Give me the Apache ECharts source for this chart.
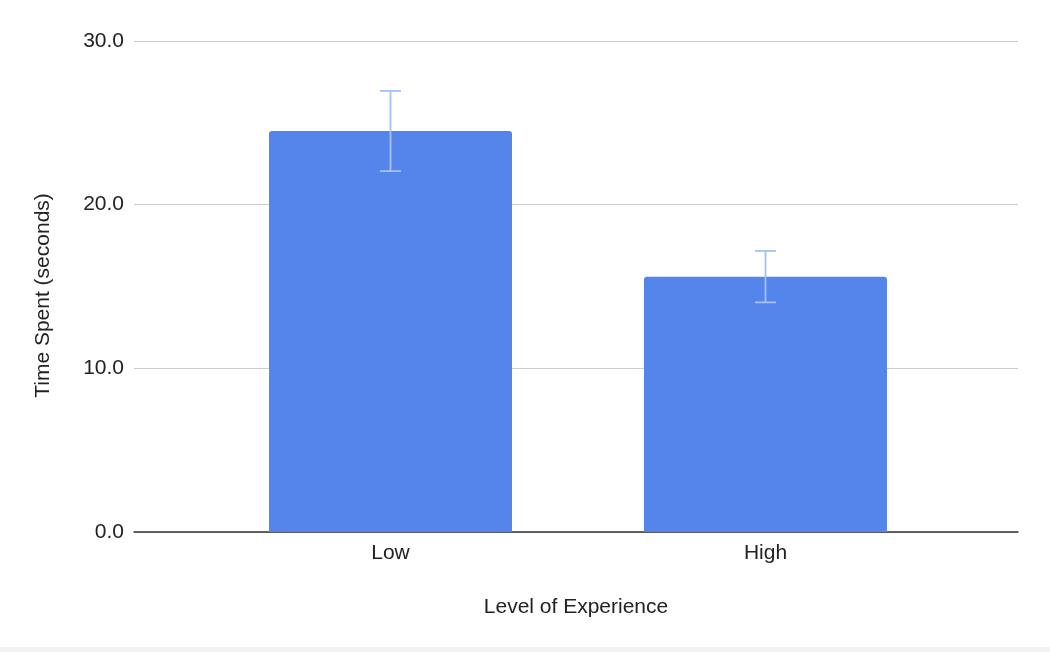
<!DOCTYPE html>
<html>
<head>
<meta charset="utf-8">
<script src="https://cdn.jsdelivr.net/npm/echarts@6/dist/echarts.min.js"></script>
<style>
    html, body {margin: 0; padding: 0; background: #f3f3f1;}
    #main {width: 1050px; height: 647px; background: #fff;}
</style>
</head>
<body>
<div id="main"></div>
<script>
var categories = ['Low', 'High'];
var times = [24.5, 15.6];
var errors = [2.45, 1.57];
var yTicks = [0, 10, 20, 30];

var myChart = echarts.init(document.getElementById('main'));
var font = '"Liberation Sans", Arial, sans-serif';

var errData = categories.map(function (c, i) {
    return [i, times[i] - errors[i], times[i] + errors[i]];
});

var option = {
    animation: false,
    textStyle: {fontFamily: font},
    grid: [
        // frame: gridlines and baseline
        {left: 134, right: 32, top: 41, bottom: 115, containLabel: false},
        // bars
        {left: 203, right: 97, top: 41, bottom: 115, containLabel: false}
    ],
    xAxis: [
        {
            type: 'value', gridIndex: 0, min: 0, max: 1, show: true,
            axisLine: {show: true, onZero: false, lineStyle: {color: '#333', width: 1.5}},
            axisTick: {show: false}, axisLabel: {show: false}, splitLine: {show: false},
            name: 'Level of Experience', nameLocation: 'middle', nameGap: 65,
            nameTextStyle: {color: '#222', fontSize: 21, fontFamily: font}
        },
        {
            type: 'category', gridIndex: 1, data: categories,
            axisLine: {show: false}, axisTick: {show: false},
            axisLabel: {color: '#222', fontSize: 21, margin: 11, fontFamily: font}
        }
    ],
    yAxis: [
        {
            type: 'value', gridIndex: 0, min: yTicks[0], max: yTicks[yTicks.length - 1], interval: 10,
            axisLine: {show: false}, axisTick: {show: false},
            axisLabel: {color: '#222', fontSize: 21, margin: 10, fontFamily: font,
                formatter: function (v) { return v.toFixed(1); }},
            splitLine: {lineStyle: {color: '#cccccc', width: 1}},
            name: 'Time Spent (seconds)', nameLocation: 'middle', nameGap: 80, nameRotate: 90,
            nameTextStyle: {color: '#222', fontSize: 21, fontFamily: font, padding: [0, 18, 0, 0]}
        },
        {
            type: 'value', gridIndex: 1, min: yTicks[0], max: yTicks[yTicks.length - 1], show: false
        }
    ],
    series: [
        {
            type: 'bar', xAxisIndex: 1, yAxisIndex: 1,
            data: times, barWidth: 243,
            itemStyle: {color: '#5485eb', borderRadius: [3, 3, 0, 0]},
            z: 2
        },
        {
            type: 'custom', xAxisIndex: 1, yAxisIndex: 1,
            data: errData,
            z: 3,
            renderItem: function (params, api) {
                var x = api.value(0);
                var lo = api.coord([x, api.value(1)]);
                var hi = api.coord([x, api.value(2)]);
                var half = 10.5;
                var style = {stroke: '#a4c2f4', lineWidth: 1.8};
                return {
                    type: 'group',
                    children: [
                        {type: 'line', shape: {x1: hi[0], y1: hi[1], x2: lo[0], y2: lo[1]}, style: style},
                        {type: 'line', shape: {x1: hi[0] - half, y1: hi[1], x2: hi[0] + half, y2: hi[1]}, style: style},
                        {type: 'line', shape: {x1: lo[0] - half, y1: lo[1], x2: lo[0] + half, y2: lo[1]}, style: style}
                    ]
                };
            }
        }
    ]
};
myChart.setOption(option);
</script>
</body>
</html>
